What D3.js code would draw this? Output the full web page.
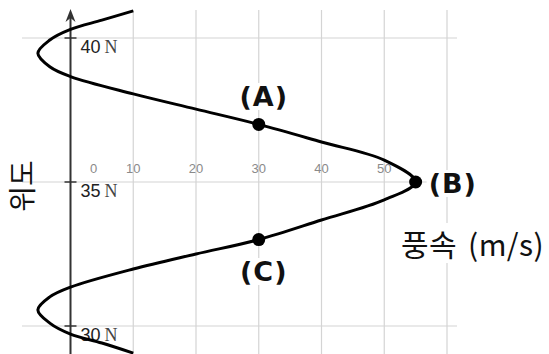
<!DOCTYPE html>
<html>
<head>
<meta charset="utf-8">
<script src="https://cdn.jsdelivr.net/npm/d3@7"></script>
<style>
  html, body { margin: 0; padding: 0; background: #fff; }
  svg { display: block; }
</style>
</head>
<body>
<div id="chart"></div>
<script>
// wind speed (m/s) along latitude
const latitudes = [40.94, 40.62, 40.30, 39.93, 39.47, 39.00, 38.66, 38.06, 37.53, 37.0,
                   36.39, 35.76, 35.0, 34.38, 33.68, 33.0, 32.50, 31.98, 31.35, 31.01,
                   30.56, 30.10, 29.72, 29.41, 29.06];
const speeds    = [10, 5, 0, -3.3, -5.2, -3.3, 0, 10, 20, 30,
                   40, 50, 55, 50, 40, 30, 20, 10, 0, -3.3,
                   -5.2, -3.3, 0, 5, 10];

const markNames = ["(A)", "(B)", "(C)"];
const markLats = [37, 35, 33];
const markSpeeds = [30, 55, 30];

const speedTicks = [0, 10, 20, 30, 40, 50];
const gridSpeeds = [10, 20, 30, 40, 50, 60];
const latTicks = [40, 35, 30];

const width = 549;
const height = 354;

const svg = d3.select("#chart")
    .append("svg")
    .attr("width", width)
    .attr("height", height);

const x = d3.scaleLinear().domain([0, 60]).range([70.5, 447]);
const y = d3.scaleLinear().domain([30, 40]).range([326, 38]);

// grid
svg.append("g")
    .selectAll("line")
    .data(gridSpeeds)
    .join("line")
    .attr("x1", d => x(d))
    .attr("x2", d => x(d))
    .attr("y1", 10)
    .attr("y2", height)
    .attr("stroke", "#d4d4d4")
    .attr("stroke-width", 1.2);

svg.append("g")
    .selectAll("line")
    .data(latTicks)
    .join("line")
    .attr("x1", 22)
    .attr("x2", 457)
    .attr("y1", d => y(d))
    .attr("y2", d => y(d))
    .attr("stroke", "#d4d4d4")
    .attr("stroke-width", 1.2);

// speed tick labels (the 0 sits a bit right of the axis)
svg.append("g")
    .selectAll("text")
    .data(speedTicks)
    .join("text")
    .attr("x", d => d === 0 ? x(d) + 23 : x(d))
    .attr("y", 173)
    .attr("text-anchor", "middle")
    .attr("font-family", "Liberation Sans, Arial, sans-serif")
    .attr("font-size", 13)
    .attr("fill", "#8a8a8a")
    .text(d => d);

// latitude axis with arrow
svg.append("line")
    .attr("x1", x(0))
    .attr("x2", x(0))
    .attr("y1", height)
    .attr("y2", 14)
    .attr("stroke", "#333")
    .attr("stroke-width", 2);

svg.append("path")
    .attr("d", `M${x(0)},9 L${x(0) - 5},22 L${x(0)},18 L${x(0) + 5},22 Z`)
    .attr("fill", "#333");

svg.append("g")
    .selectAll("line")
    .data(latTicks)
    .join("line")
    .attr("x1", x(0) - 6)
    .attr("x2", x(0) + 6)
    .attr("y1", d => y(d))
    .attr("y2", d => y(d))
    .attr("stroke", "#333")
    .attr("stroke-width", 1.5);

const latLabel = svg.append("g")
    .selectAll("text")
    .data(latTicks)
    .join("text")
    .attr("x", x(0) + 10)
    .attr("y", d => y(d) + 15)
    .attr("fill", "#222");

latLabel.append("tspan")
    .attr("font-family", "Liberation Sans, Arial, sans-serif")
    .attr("font-size", 18)
    .text(d => d);

latLabel.append("tspan")
    .attr("dx", 4)
    .attr("font-family", "Liberation Serif, Times New Roman, serif")
    .attr("font-size", 18)
    .attr("fill", "#444")
    .text("N");

// wind profile
const profile = latitudes.map((lat, i) => ({ lat: lat, speed: speeds[i] }));

const line = d3.line()
    .x(d => x(d.speed))
    .y(d => y(d.lat))
    .curve(d3.curveCatmullRom.alpha(0.5));

svg.append("path")
    .datum(profile)
    .attr("d", line)
    .attr("fill", "none")
    .attr("stroke", "#000")
    .attr("stroke-width", 3);

// marked points
const marks = markNames.map((name, i) => ({ name: name, lat: markLats[i], speed: markSpeeds[i] }));

svg.append("g")
    .selectAll("circle")
    .data(marks)
    .join("circle")
    .attr("cx", d => x(d.speed))
    .attr("cy", d => y(d.lat))
    .attr("r", 6.5)
    .attr("fill", "#000");

function addLabel(text, px, py, anchor, size, weight, spacing) {
    const t = svg.append("text")
        .attr("x", px)
        .attr("y", py)
        .attr("text-anchor", anchor)
        .attr("font-family", weight === "bold" ? "DejaVu Sans, sans-serif" : "Noto Sans CJK KR, sans-serif")
        .attr("font-size", size)
        .attr("font-weight", weight)
        .attr("letter-spacing", spacing)
        .attr("word-spacing", 4)
        .attr("fill", "#111")
        .text(text);
    const bb = t.node().getBBox();
    svg.insert("rect", () => t.node())
        .attr("x", bb.x - 2)
        .attr("y", bb.y + 2)
        .attr("width", bb.width + 4)
        .attr("height", bb.height - 4)
        .attr("fill", "#fff");
    return t;
}

addLabel(marks[0].name, x(marks[0].speed) + 5, 106, "middle", 27, "bold", 1);
addLabel(marks[1].name, x(marks[1].speed) + 13, 193, "start", 27, "bold", 1);
addLabel(marks[2].name, x(marks[2].speed) + 5, 281, "middle", 27, "bold", 1);

addLabel("풍속 (m/s)", 401, 256, "start", 30, "normal", 0.4);

// y axis title
svg.append("text")
    .attr("transform", "translate(33,186) rotate(-90)")
    .attr("text-anchor", "middle")
    .attr("font-family", "Noto Sans CJK KR, sans-serif")
    .attr("font-size", 28)
    .attr("fill", "#111")
    .text("위도");
</script>
</body>
</html>
